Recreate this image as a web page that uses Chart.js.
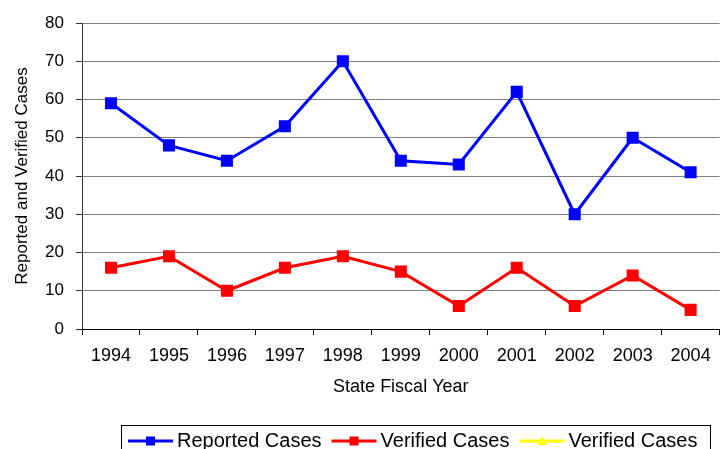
<!DOCTYPE html>
<html>
<head>
<meta charset="utf-8">
<script src="https://cdn.jsdelivr.net/npm/chart.js@4"></script>
<style>
  html, body { margin: 0; padding: 0; background: #fff; overflow: hidden; }
  #wrap { width: 722px; height: 449px; overflow: hidden; }
</style>
</head>
<body>
<div id="wrap">
  <canvas id="casesChart" width="729" height="449" style="width:729px;height:449px"></canvas>
</div>
<script>
// values
const years = ['1994', '1995', '1996', '1997', '1998', '1999', '2000', '2001', '2002', '2003', '2004'];
const reportedCases = [59, 48, 44, 53, 70, 44, 43, 62, 30, 50, 41];
const verifiedCases = [16, 19, 10, 16, 19, 15, 6, 16, 6, 14, 5];
const verifiedCases2 = [null, null, null, null, null, null, null, null, null, null, null];

const FONT = "'Liberation Sans', Arial, sans-serif";

// boxed legend under the chart, line + marker like the original
const boxLegend = {
  id: 'boxLegend',
  afterDraw(chart) {
    const ctx = chart.ctx;
    ctx.save();
    ctx.strokeStyle = '#000';
    ctx.lineWidth = 1;
    ctx.strokeRect(121.5, 425.5, 589, 40);

    ctx.font = '20px ' + FONT;
    ctx.textBaseline = 'middle';
    const y = 441;
    let x = 128;
    chart.data.datasets.forEach(ds => {
      ctx.strokeStyle = ds.borderColor;
      ctx.lineWidth = 3;
      ctx.beginPath();
      ctx.moveTo(x, y);
      ctx.lineTo(x + 45, y);
      ctx.stroke();
      ctx.fillStyle = ds.backgroundColor;
      const cx = x + 22.5;
      if (ds.pointStyle === 'triangle') {
        ctx.beginPath();
        ctx.moveTo(cx, y - 5);
        ctx.lineTo(cx + 5, y + 4);
        ctx.lineTo(cx - 5, y + 4);
        ctx.closePath();
        ctx.fill();
      } else {
        ctx.fillRect(cx - 4.5, y - 4.5, 9, 9);
      }
      ctx.fillStyle = '#000';
      ctx.fillText(ds.label, x + 49, y);
      x += 49 + ctx.measureText(ds.label).width + 10;
    });
    ctx.restore();
  }
};

new Chart(document.getElementById('casesChart'), {
  type: 'line',
  data: {
    labels: years,
    datasets: [
      {
        label: 'Reported Cases',
        data: reportedCases,
        borderColor: '#0000FF',
        backgroundColor: '#0000FF',
        borderWidth: 3,
        pointStyle: 'rect',
        pointRadius: 6.4,
        tension: 0
      },
      {
        label: 'Verified Cases',
        data: verifiedCases,
        borderColor: '#FF0000',
        backgroundColor: '#FF0000',
        borderWidth: 3,
        pointStyle: 'rect',
        pointRadius: 6.4,
        tension: 0
      },
      {
        label: 'Verified Cases',
        data: verifiedCases2,
        borderColor: '#FFFF00',
        backgroundColor: '#FFFF00',
        borderWidth: 3,
        pointStyle: 'triangle',
        pointRadius: 5,
        tension: 0
      }
    ]
  },
  options: {
    responsive: false,
    animation: false,
    layout: { padding: { top: 23, right: 0, bottom: 51, left: 0 } },
    plugins: {
      legend: { display: false },
      tooltip: { enabled: false }
    },
    scales: {
      x: {
        offset: true,
        grid: {
          offset: true,
          drawOnChartArea: false,
          drawTicks: true,
          tickLength: 6,
          color: '#000'
        },
        border: { color: '#000', width: 1 },
        ticks: {
          color: '#000',
          padding: 10,
          maxRotation: 0,
          autoSkip: false,
          font: { family: FONT, size: 18 }
        },
        title: {
          display: true,
          text: 'State Fiscal Year',
          color: '#000',
          padding: { top: 0, bottom: 0 },
          font: { family: FONT, size: 18 }
        },
        afterFit(scale) { scale.height = 69; }
      },
      y: {
        min: 0,
        max: 80,
        grid: {
          color: '#808080',
          tickColor: '#333',
          tickLength: 6
        },
        border: { color: '#333', width: 1 },
        ticks: {
          stepSize: 10,
          color: '#000',
          padding: 12,
          font: { family: FONT, size: 17 }
        },
        title: {
          display: true,
          text: 'Reported and Verified Cases',
          color: '#000',
          padding: { top: 12, bottom: 0 },
          font: { family: FONT, size: 17 }
        },
        afterFit(scale) { scale.width = 82; }
      }
    }
  },
  plugins: [boxLegend]
});
</script>
</body>
</html>
